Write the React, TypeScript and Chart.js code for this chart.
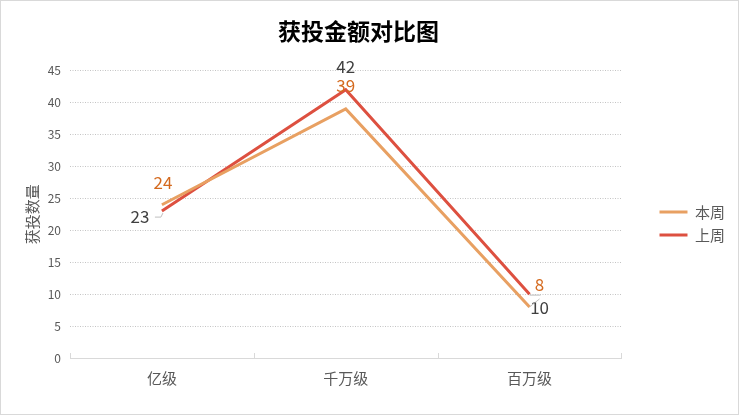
import React, { useEffect, useRef } from "react";
import { Chart, registerables } from "chart.js";

Chart.register(...registerables);

const categories = ["亿级", "千万级", "百万级"];
const thisWeek = [24, 39, 8];
const lastWeek = [23, 42, 10];
const seriesNames = ["本周", "上周"];
const yMax = 45;
const yStep = 5;

const FONT = '"Noto Sans CJK SC", "Noto Sans", sans-serif';
const COLORS = ["#E8A062", "#DD5040"];
const LABEL_COLORS = ["#D46A1F", "#404040"];
// label offsets relative to each point [dx, dy]
const LABEL_OFFSETS = [
  [[1, -22], [0, -23], [10, -22]],
  [[-22, 5], [0, -23], [10, 13]],
];

const pointLabelPlugin = {
  id: "pointLabels",
  afterDatasetsDraw(chart: any) {
    const ctx = chart.ctx;
    ctx.save();
    ctx.font = `17px ${FONT}`;
    ctx.textAlign = "center";
    ctx.textBaseline = "middle";
    chart.data.datasets.forEach((ds: any, di: number) => {
      const meta = chart.getDatasetMeta(di);
      meta.data.forEach((pt: any, i: number) => {
        const [dx, dy] = LABEL_OFFSETS[di][i];
        ctx.fillStyle = LABEL_COLORS[di];
        ctx.fillText(String(ds.data[i]), pt.x + dx, pt.y + dy);
      });
    });
    // small leader lines
    ctx.strokeStyle = "#BFBFBF";
    ctx.lineWidth = 1;
    const r0 = chart.getDatasetMeta(1).data[0];
    if (r0) {
      ctx.beginPath();
      ctx.moveTo(r0.x - 7, r0.y + 6);
      ctx.lineTo(r0.x - 1, r0.y + 6);
      ctx.lineTo(r0.x + 1, r0.y + 2);
      ctx.stroke();
    }
    const r2 = chart.getDatasetMeta(1).data[2];
    if (r2) {
      ctx.beginPath();
      ctx.moveTo(r2.x, r2.y + 1);
      ctx.lineTo(r2.x + 11, r2.y + 1);
      ctx.stroke();
    }
    const o2 = chart.getDatasetMeta(0).data[2];
    if (o2) {
      ctx.beginPath();
      ctx.moveTo(o2.x, o2.y);
      ctx.lineTo(o2.x + 10, o2.y - 8);
      ctx.stroke();
    }
    ctx.restore();
  },
};

const frameAndTicksPlugin = {
  id: "frameAndTicks",
  afterDraw(chart: any) {
    const ctx = chart.ctx;
    const x = chart.scales.x;
    const area = chart.chartArea;
    ctx.save();
    ctx.strokeStyle = "#D9D9D9";
    ctx.lineWidth = 1;
    // category boundary tick marks pointing up from the axis
    const n = categories.length;
    const bounds: number[] = [x.left];
    for (let i = 0; i < n - 1; i++) {
      bounds.push((x.getPixelForValue(i) + x.getPixelForValue(i + 1)) / 2);
    }
    bounds.push(x.right);
    bounds.forEach((b) => {
      const px = Math.round(b) + 0.5;
      ctx.beginPath();
      ctx.moveTo(px, area.bottom);
      ctx.lineTo(px, area.bottom - 5);
      ctx.stroke();
    });
    // outer frame
    ctx.strokeRect(0.5, 0.5, chart.width - 1, chart.height - 1);
    ctx.restore();
  },
};

export default function App() {
  const canvasRef = useRef<HTMLCanvasElement | null>(null);

  useEffect(() => {
    const canvas = canvasRef.current;
    if (!canvas) return;
    const chart = new Chart(canvas, {
      type: "line",
      data: {
        labels: categories,
        datasets: [
          {
            label: seriesNames[0],
            data: thisWeek,
            borderColor: COLORS[0],
            backgroundColor: COLORS[0],
            borderWidth: 3,
            pointRadius: 0,
            tension: 0,
          },
          {
            label: seriesNames[1],
            data: lastWeek,
            borderColor: COLORS[1],
            backgroundColor: COLORS[1],
            borderWidth: 3,
            pointRadius: 0,
            tension: 0,
          },
        ],
      },
      options: {
        responsive: false,
        animation: false,
        devicePixelRatio: 1,
        layout: { padding: { left: -18, right: 4, top: 0, bottom: 0 } },
        plugins: {
          title: {
            display: true,
            text: "获投金额对比图",
            color: "#000000",
            font: { family: FONT, size: 23, weight: "bold" },
            padding: { top: 17, bottom: 26 },
          },
          legend: {
            position: "right",
            title: {
              display: true,
              text: " ",
              padding: 0,
              font: { family: FONT, size: 20, lineHeight: 1.6 },
            },
            labels: {
              usePointStyle: true,
              pointStyle: "line",
              pointStyleWidth: 28,
              boxHeight: 15,
              color: "#595959",
              font: { family: FONT, size: 15 },
              padding: 8,
            },
          },
          tooltip: { enabled: false },
        },
        scales: {
          x: {
            type: "category",
            offset: true,
            grid: { display: false, drawTicks: false },
            border: { display: true, color: "#D9D9D9", width: 1 },
            ticks: {
              color: "#595959",
              font: { family: FONT, size: 15 },
              padding: 11,
            },
            afterFit: (s: any) => {
              s.height = 57;
            },
          },
          y: {
            min: 0,
            max: yMax,
            ticks: {
              stepSize: yStep,
              color: "#595959",
              font: { family: FONT, size: 12 },
              padding: 9,
            },
            grid: {
              color: "#C4C4C4",
              lineWidth: 1,
              drawTicks: false,
            },
            border: { display: false, dash: [1, 1.5] },
            title: {
              display: true,
              text: "获投数量",
              color: "#595959",
              font: { family: FONT, size: 15 },
              padding: { top: 41, bottom: 0 },
            },
            afterFit: (s: any) => {
              s.width = 88;
            },
          },
          spacer: {
            type: "linear",
            position: "right",
            display: true,
            grid: { display: false, drawTicks: false },
            border: { display: false },
            ticks: { display: false },
            afterFit: (s: any) => {
              s.width = 30;
            },
          },
        },
      },
      plugins: [pointLabelPlugin, frameAndTicksPlugin],
    } as any);
    return () => chart.destroy();
  }, []);

  return (
    <div style={{ position: "absolute", left: 0, top: 0, width: 739, height: 415, background: "#fff" }}>
      <canvas ref={canvasRef} width={739} height={415} />
    </div>
  );
}
